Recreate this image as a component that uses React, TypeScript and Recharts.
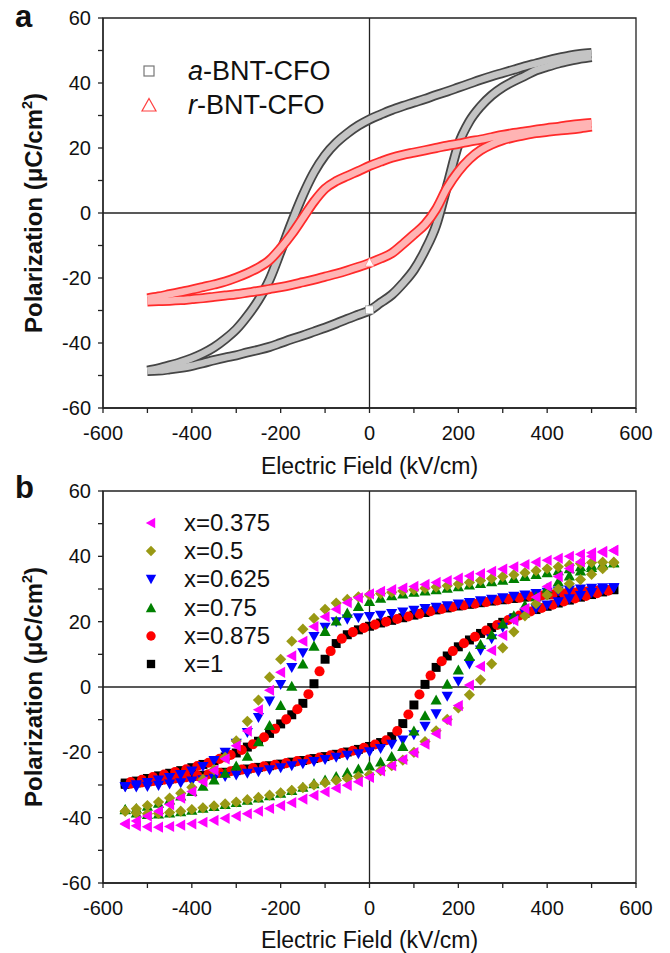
import React from 'react';
import {
  LineChart,
  Line,
  ScatterChart,
  Scatter,
  XAxis,
  YAxis,
  ReferenceLine,
  ReferenceArea,
  ReferenceDot,
  Legend,
} from 'recharts';

const FONT = "'Liberation Sans', Arial, Helvetica, sans-serif";

// ---------- axes ----------
const X_TICKS = [-600, -500, -400, -300, -200, -100, 0, 100, 200, 300, 400, 500, 600];
const X_LABELS = [-600, -400, -200, 0, 200, 400, 600];
const Y_TICKS = [-60, -50, -40, -30, -20, -10, 0, 10, 20, 30, 40, 50, 60];
const Y_LABELS = [-60, -40, -20, 0, 20, 40, 60];

// ---------- panel a : field grid (kV/cm) ----------
const E_A = [
  -500, -475, -450, -425, -400, -375, -350, -325, -300, -275, -250, -225, -200, -175, -150, -125,
  -100, -75, -50, -25, 0, 25, 50, 75, 100, 125, 150, 175, 200, 225, 250, 275, 300, 325, 350, 375,
  400, 425, 450, 475, 500,
];
// a-BNT-CFO: descending-field branch and ascending-field branch
const A_UP = [
  -48.5, -47.8, -46.9, -45.9, -44.7, -43.2, -41.3, -38.8, -35.8, -31.7, -26.8, -20.5, -11.8, -2.8,
  5.5, 12.5, 17.8, 21.6, 24.5, 26.9, 28.8, 30.3, 31.7, 32.9, 34, 35.1, 36.3, 37.4, 38.6, 39.8, 41,
  42.1, 43.1, 44.1, 45.1, 46, 46.9, 47.7, 48.4, 48.9, 49.2,
];
const A_LO = [
  -48.6, -48.5, -48.1, -47.6, -47, -46.2, -45.3, -44.5, -43.8, -42.9, -42.1, -41.2, -40, -38.8,
  -37.7, -36.5, -35.3, -34, -32.6, -31.3, -30, -27.6, -25.2, -21.7, -17.5, -11.5, -3.8, 8.5, 21,
  28.2, 32.8, 36.2, 38.7, 40.6, 42.2, 43.9, 45, 46, 46.8, 47.5, 48,
];
// r-BNT-CFO
const R_UP = [
  -26.3, -25.7, -25, -24.3, -23.6, -22.8, -22, -21.1, -19.9, -18.5, -16.8, -14.5, -10.8, -6.5,
  -1.5, 3.5, 7.5, 9.8, 11.4, 12.9, 14.5, 15.8, 17, 17.9, 18.6, 19.3, 20, 20.7, 21.3, 22, 22.6,
  23.3, 24, 24.6, 25.1, 25.6, 26.1, 26.5, 27, 27.4, 27.7,
];
const R_LO = [
  -27.2, -27.1, -27, -26.8, -26.5, -26.2, -25.8, -25.4, -25, -24.5, -24, -23.4, -22.8, -22.1,
  -21.3, -20.5, -19.6, -18.7, -17.7, -16.6, -15.4, -14, -12.4, -9.6, -6.6, -3.5, 1.2, 7.8, 12.8,
  16.6, 19.3, 21.1, 22.4, 23.3, 24, 24.6, 25, 25.4, 25.7, 26.1, 26.6,
];
// first measured point of each loop (drawn hollow/white in the reference)
const START_A = [
  { E: 0, P: -29.8, kind: 'square' },
  { E: 0, P: -15.3, kind: 'triangle' },
];

// ---------- panel b : field grids ----------
const E_B = [
  -550, -525, -500, -475, -450, -425, -400, -375, -350, -325, -300, -275, -250, -225, -200, -175,
  -150, -125, -100, -75, -50, -25, 0, 25, 50, 75, 100, 125, 150, 175, 200, 225, 250, 275, 300, 325,
  350, 375, 400, 425, 450, 475, 500, 525, 550,
];
const E_B_OFF = [
  -537.5, -512.5, -487.5, -462.5, -437.5, -412.5, -387.5, -362.5, -337.5, -312.5, -287.5, -262.5,
  -237.5, -212.5, -187.5, -162.5, -137.5, -112.5, -87.5, -62.5, -37.5, -12.5, 12.5, 37.5, 62.5,
  87.5, 112.5, 137.5, 162.5, 187.5, 212.5, 237.5, 262.5, 287.5, 312.5, 337.5, 362.5, 387.5, 412.5,
  437.5, 462.5, 487.5, 512.5, 537.5,
];

const P375_UP = [
  -42, -41, -39.5, -38, -36, -34, -32, -29, -25.5, -22, -18, -13.5, -7, -1, 4.5, 9.5, 14, 18.5,
  21.5, 23.8, 25.8, 27.3, 28.5, 29.3, 29.8, 30.3, 30.8, 31.4, 32, 32.6, 33.3, 34, 34.7, 35.4, 36.1,
  36.8, 37.5, 38.2, 38.8, 39.4, 40, 40.6, 41.1, 41.5, 41.8,
];
const P375_LO = [
  -41.8, -42.5, -42.8, -42.9, -42.7, -42.3, -41.9, -41.4, -40.8, -40.2, -39.5, -38.8, -38, -37.2,
  -36.3, -35.4, -34.3, -33.2, -32.1, -31, -30.1, -29, -27.7, -25.7, -24.1, -22.2, -20.1, -17.5,
  -14.3, -10.3, -5.7, 0.6, 6.3, 11.2, 15.8, 20.3, 24, 27.5, 30.8, 33.8, 36.3, 38.3, 40, 41.2, 41.8,
];
const P5_UP = [
  -38, -37.3, -36.3, -35.2, -34, -32.5, -30.7, -28.3, -25.3, -21.5, -16.5, -10.5, -4, 3, 8.5, 14,
  17.7, 21, 23.8, 25.7, 26.8, 27.6, 28.2, 28.6, 29, 29.4, 29.8, 30.2, 30.6, 31, 31.5, 32, 32.6,
  33.2, 33.8, 34.4, 35, 35.6, 36.2, 36.8, 37.3, 37.8, 38.1, 38.2, 38.2,
];
const P5_LO = [
  -38, -38.6, -38.8, -38.7, -38.4, -38, -37.5, -37, -36.4, -35.8, -35.2, -34.5, -33.8, -33.1,
  -32.4, -31.6, -30.8, -30, -29.3, -28.6, -28, -27.4, -26.8, -25.6, -24.1, -22.4, -20, -16.7,
  -13.4, -9.9, -6.4, -2.4, 2.2, 7.1, 12, 16.9, 21.8, 25.5, 28.2, 30, 31.6, 32.9, 34.5, 36.2, 38,
];
const P625_UP = [
  -30.5, -29.9, -29.2, -28.5, -27.7, -26.8, -25.7, -24.3, -22.5, -20, -17.2, -13.9, -9.3, -4.3,
  0.8, 6, 10.5, 15.5, 18.3, 20, 20.8, 21.2, 21.6, 22, 22.5, 23, 23.5, 24, 24.4, 24.9, 25.4, 25.9,
  26.4, 26.9, 27.3, 27.8, 28.2, 28.6, 29, 29.4, 29.7, 30, 30.2, 30.4, 30.4,
];
const P625_LO = [
  -30.5, -30.6, -30.4, -30.1, -29.7, -29.3, -28.8, -28.4, -27.9, -27.4, -26.9, -26.4, -25.9,
  -25.3, -24.7, -24.1, -23.5, -22.8, -22.2, -21.5, -20.9, -20.4, -19.8, -18.8, -17.5, -16.2,
  -14.6, -12, -8.2, -2.8, 1.8, 7.1, 11.3, 14.8, 18.3, 20.8, 22.6, 24, 25.1, 26.1, 27, 28, 28.9,
  29.8, 30.4,
];
const P75_UP = [
  -37.5, -37.2, -36.5, -35.6, -34.6, -33.4, -32, -30.4, -28.5, -26.4, -24.2, -21.2, -16.8, -11.8,
  -5.7, 0.2, 7, 12.5, 17, 20.2, 22.6, 24.6, 26.2, 27.2, 27.9, 28.5, 29, 29.4, 29.8, 30.2, 30.7,
  31.2, 31.7, 32.2, 32.7, 33.2, 33.8, 34.4, 35, 35.6, 36.2, 36.8, 37.3, 37.7, 38,
];
const P75_LO = [
  -37.6, -38.6, -39, -38.9, -38.6, -38.2, -37.7, -37.1, -36.6, -36, -35.4, -34.7, -34, -33.3,
  -32.5, -31.7, -30.7, -29.6, -28.5, -27.4, -26.2, -25.1, -24.2, -23, -21.3, -18.2, -13.5, -8.8,
  -4, 0.8, 5.2, 9.3, 13, 16, 19.3, 21.8, 25, 27.6, 30.2, 32.2, 34, 35.5, 36.6, 37.4, 38,
];
const P875_UP = [
  -29.1, -28.4, -27.6, -26.8, -26, -25.2, -24.2, -23.2, -22, -20.8, -19.3, -17.5, -15.4, -12.8,
  -9.9, -6.8, -2.2, 4.8, 11, 14.8, 16.8, 18.1, 19.1, 20, 20.8, 21.6, 22.4, 23.2, 23.9, 24.5, 25,
  25.5, 26, 26.5, 26.9, 27.3, 27.7, 28, 28.3, 28.6, 28.9, 29.2, 29.5, 29.7,
];
const P875_LO = [
  -29.6, -29.2, -28.8, -28.4, -28, -27.6, -27.2, -26.7, -26.3, -25.8, -25.3, -24.8, -24.3, -23.8,
  -23.3, -22.7, -22.2, -21.6, -20.9, -20.2, -19.5, -18.6, -17.6, -16.3, -13.5, -8.4, -2.3, 3.5,
  7.9, 11, 13.4, 15.4, 17.3, 19, 20.5, 21.9, 23.1, 24.2, 25.2, 26.2, 27.1, 27.9, 28.7, 29.5,
];
const P1_UP = [
  -29.4, -28.8, -28, -27.2, -26.4, -25.6, -24.7, -23.7, -22.6, -21.4, -20.2, -18.4, -16.6, -14.2,
  -11.3, -8.5, -5, 1, 8.5, 13.3, 16, 17.5, 18.6, 19.6, 20.4, 21.2, 22, 22.8, 23.6, 24.2, 24.8,
  25.3, 25.8, 26.3, 26.7, 27.1, 27.5, 27.9, 28.2, 28.5, 28.8, 29.1, 29.4, 29.6, 29.8,
];
const P1_LO = [
  -29.8, -29.4, -29, -28.6, -28.2, -27.8, -27.4, -27, -26.5, -26.1, -25.6, -25.1, -24.6, -24.1,
  -23.6, -23, -22.5, -21.9, -21.3, -20.6, -19.9, -19.1, -18.2, -17, -15.2, -11.2, -5.5, 0.8, 6,
  9.5, 12.3, 14.4, 16.4, 18.2, 19.8, 21.2, 22.5, 23.7, 24.7, 25.7, 26.6, 27.5, 28.3, 29.1, 29.8,
];

const LEGEND_A = ['a-BNT-CFO', 'r-BNT-CFO'];
const LEGEND_B = ['x=0.375', 'x=0.5', 'x=0.625', 'x=0.75', 'x=0.875', 'x=1'];

// ---------- built tables ----------
const dataA = E_A.map((E, i) => ({ E, aUp: A_UP[i], aLo: A_LO[i], rUp: R_UP[i], rLo: R_LO[i] }));

const loop = (es: number[], up: number[], lo: number[]) => [
  ...es.map((E, i) => ({ E, P: up[i] })),
  ...es.map((E, i) => ({ E, P: lo[i] })),
];

const SERIES_B = [
  { name: LEGEND_B[0], color: '#ff00ff', kind: 'left', data: loop(E_B, P375_UP, P375_LO) },
  { name: LEGEND_B[1], color: '#999914', kind: 'diamond', data: loop(E_B, P5_UP, P5_LO) },
  { name: LEGEND_B[2], color: '#0000ff', kind: 'down', data: loop(E_B, P625_UP, P625_LO) },
  { name: LEGEND_B[3], color: '#008000', kind: 'up', data: loop(E_B, P75_UP, P75_LO) },
  { name: LEGEND_B[4], color: '#ff0000', kind: 'circle', data: loop(E_B_OFF, P875_UP, P875_LO) },
  { name: LEGEND_B[5], color: '#000000', kind: 'square', data: loop(E_B, P1_UP, P1_LO) },
];
const DRAW_ORDER = [5, 4, 2, 3, 1, 0];
const MS = 5.6;

// ---------- marker glyphs ----------
function Marker({ kind, cx, cy, color, s = 5 }: any) {
  if (cx == null || cy == null) return <g />;
  switch (kind) {
    case 'left':
      return <path d={`M${cx - s},${cy} L${cx + s * 0.8},${cy - s} L${cx + s * 0.8},${cy + s} Z`} fill={color} />;
    case 'diamond':
      return <path d={`M${cx},${cy - s} L${cx + s},${cy} L${cx},${cy + s} L${cx - s},${cy} Z`} fill={color} />;
    case 'down':
      return <path d={`M${cx - s},${cy - s * 0.8} L${cx + s},${cy - s * 0.8} L${cx},${cy + s} Z`} fill={color} />;
    case 'up':
      return <path d={`M${cx - s},${cy + s * 0.8} L${cx + s},${cy + s * 0.8} L${cx},${cy - s} Z`} fill={color} />;
    case 'circle':
      return <circle cx={cx} cy={cy} r={s * 0.9} fill={color} />;
    default:
      return <rect x={cx - s * 0.8} y={cy - s * 0.8} width={s * 1.6} height={s * 1.6} fill={color} />;
  }
}

const StartMark = (props: any) => {
  const { cx, cy, kind } = props;
  if (cx == null || cy == null) return <g />;
  if (kind === 'square')
    return <rect x={cx - 4} y={cy - 4} width={8} height={8} fill="#fff" stroke="#aaa" strokeWidth={0.8} />;
  return <path d={`M${cx},${cy - 5} L${cx + 4.5},${cy + 3.5} L${cx - 4.5},${cy + 3.5} Z`} fill="#fff" stroke="#ff9090" strokeWidth={0.8} />;
};

// ---------- ticks ----------
const XTick = (props: any) => {
  const { x, y, payload } = props;
  if (!X_LABELS.includes(payload.value)) return <g />;
  return (
    <text x={x} y={y + 27} textAnchor="middle" fontSize={20} fontFamily={FONT} fill="#111">
      {payload.value}
    </text>
  );
};
const YTick = (props: any) => {
  const { x, y, payload } = props;
  if (!Y_LABELS.includes(payload.value)) return <g />;
  return (
    <text x={x - 7} y={y + 7} textAnchor="end" fontSize={20} fontFamily={FONT} fill="#111">
      {payload.value}
    </text>
  );
};

const AXIS_COLOR = '#222';

const axes = (yKey?: string) => [
  <XAxis
    key="x"
    dataKey="E"
    type="number"
    domain={[-600, 600]}
    ticks={X_TICKS}
    interval={0}
    tickSize={5}
    tickMargin={0}
    height={30}
    tick={XTick}
    stroke={AXIS_COLOR}
    strokeWidth={1.3}
  />,
  <YAxis
    key="y"
    dataKey={yKey}
    type="number"
    domain={[-60, 60]}
    ticks={Y_TICKS}
    interval={0}
    tickSize={5}
    tickMargin={0}
    width={60}
    tick={YTick}
    stroke={AXIS_COLOR}
    strokeWidth={1.3}
  />,
  <ReferenceArea
    key="frame"
    x1={-600}
    x2={600}
    y1={-60}
    y2={60}
    fill="none"
    fillOpacity={0}
    stroke={AXIS_COLOR}
    strokeWidth={1.3}
    ifOverflow="visible"
  />,
  <ReferenceLine key="vx" x={0} stroke={AXIS_COLOR} strokeWidth={1.3} />,
  <ReferenceLine key="hy" y={0} stroke={AXIS_COLOR} strokeWidth={1.3} />,
];

// ---------- legends ----------
const LegendA = () => (
  <div style={{ fontFamily: FONT, fontSize: 27, color: '#111' }}>
    {LEGEND_A.map((name, i) => (
      <div key={name} style={{ display: 'flex', alignItems: 'center', height: 34 }}>
        <svg width={18} height={18} style={{ marginRight: 30 }}>
          {i === 0 ? (
            <rect x={4} y={4} width={10} height={10} fill="none" stroke="#777" strokeWidth={1.2} />
          ) : (
            <path d="M9,2.5 L16,15 L2,15 Z" fill="none" stroke="#ff4040" strokeWidth={1.2} />
          )}
        </svg>
        <span>
          <i>{name.slice(0, 1)}</i>
          {name.slice(1)}
        </span>
      </div>
    ))}
  </div>
);

const LegendB = () => (
  <div style={{ fontFamily: FONT, fontSize: 24, color: '#111' }}>
    {SERIES_B.map((s) => (
      <div key={s.name} style={{ display: 'flex', alignItems: 'center', height: 28.2 }}>
        <svg width={18} height={18} style={{ marginRight: 24 }}>
          <Marker kind={s.kind} cx={9} cy={9} color={s.color} s={5.2} />
        </svg>
        <span>{s.name}</span>
      </div>
    ))}
  </div>
);

// ---------- titles ----------
const YTitle = ({ top }: { top: number }) => (
  <div
    style={{
      position: 'absolute',
      left: 33,
      top,
      transform: 'translate(-50%, -50%) rotate(-90deg)',
      whiteSpace: 'nowrap',
      fontFamily: FONT,
      fontSize: 24,
      fontWeight: 'bold',
      color: '#111',
      lineHeight: 1,
    }}
  >
    Polarization (μC/cm<sup style={{ fontSize: '0.6em', verticalAlign: '0.7em' }}>2</sup>)
  </div>
);
const XTitle = ({ top }: { top: number }) => (
  <div
    style={{
      position: 'absolute',
      left: 369.5,
      top,
      transform: 'translate(-50%, -50%)',
      whiteSpace: 'nowrap',
      fontFamily: FONT,
      fontSize: 23,
      color: '#111',
      lineHeight: 1,
    }}
  >
    Electric Field (kV/cm)
  </div>
);
const PanelLetter = ({ text, top }: { text: string; top: number }) => (
  <div
    style={{
      position: 'absolute',
      left: 15,
      top,
      fontFamily: FONT,
      fontSize: 31,
      fontWeight: 'bold',
      color: '#111',
      lineHeight: 1,
    }}
  >
    {text}
  </div>
);

export default function App() {
  return (
    <div style={{ position: 'absolute', left: 0, top: 0, width: 670, height: 953, background: '#fff', overflow: 'hidden' }}>
      {/* panel a */}
      <div style={{ position: 'absolute', left: 0, top: 0 }}>
        <LineChart width={670} height={470} data={dataA} margin={{ top: 18, right: 34, bottom: 32, left: 43 }}>
          {axes()}
          <Line dataKey="aUp" type="monotone" stroke="#454545" strokeWidth={10} dot={false} isAnimationActive={false} legendType="none" />
          <Line dataKey="aLo" type="monotone" stroke="#454545" strokeWidth={10} dot={false} isAnimationActive={false} legendType="none" />
          <Line dataKey={(d: any) => d.aUp} type="monotone" stroke="#c4c4c4" strokeWidth={6.5} dot={false} isAnimationActive={false} legendType="none" />
          <Line dataKey={(d: any) => d.aLo} type="monotone" stroke="#c4c4c4" strokeWidth={6.5} dot={false} isAnimationActive={false} legendType="none" />
          <Line dataKey="rUp" type="monotone" stroke="#ff2a2a" strokeWidth={10} dot={false} isAnimationActive={false} legendType="none" />
          <Line dataKey="rLo" type="monotone" stroke="#ff2a2a" strokeWidth={10} dot={false} isAnimationActive={false} legendType="none" />
          <Line dataKey={(d: any) => d.rUp} type="monotone" stroke="#ffb4b4" strokeWidth={6.5} dot={false} isAnimationActive={false} legendType="none" />
          <Line dataKey={(d: any) => d.rLo} type="monotone" stroke="#ffb4b4" strokeWidth={6.5} dot={false} isAnimationActive={false} legendType="none" />
          {START_A.map((p) => (
            <ReferenceDot key={p.kind} x={p.E} y={p.P} r={4} shape={(props: any) => <StartMark {...props} kind={p.kind} />} />
          ))}
          <Legend
            layout="vertical"
            align="center"
            verticalAlign="middle"
            content={<LegendA />}
            wrapperStyle={{ left: 140, top: 54, width: 260 }}
          />
        </LineChart>
      </div>
      {/* panel b */}
      <div style={{ position: 'absolute', left: 0, top: 470 }}>
        <ScatterChart width={670} height={483} margin={{ top: 21, right: 34, bottom: 40, left: 43 }}>
          {axes('P')}
          {DRAW_ORDER.map((idx) => {
            const s = SERIES_B[idx];
            return (
              <Scatter
                key={s.name}
                name={s.name}
                data={s.data}
                fill={s.color}
                isAnimationActive={false}
                shape={(p: any) => <Marker kind={s.kind} cx={p.cx} cy={p.cy} color={s.color} s={MS} />}
              />
            );
          })}
          <Legend
            layout="vertical"
            align="center"
            verticalAlign="middle"
            content={<LegendB />}
            wrapperStyle={{ left: 142, top: 39, width: 200 }}
          />
        </ScatterChart>
      </div>
      <PanelLetter text="a" top={1} />
      <PanelLetter text="b" top={472} />
      <YTitle top={213} />
      <YTitle top={687} />
      <XTitle top={466} />
      <XTitle top={940} />
    </div>
  );
}
